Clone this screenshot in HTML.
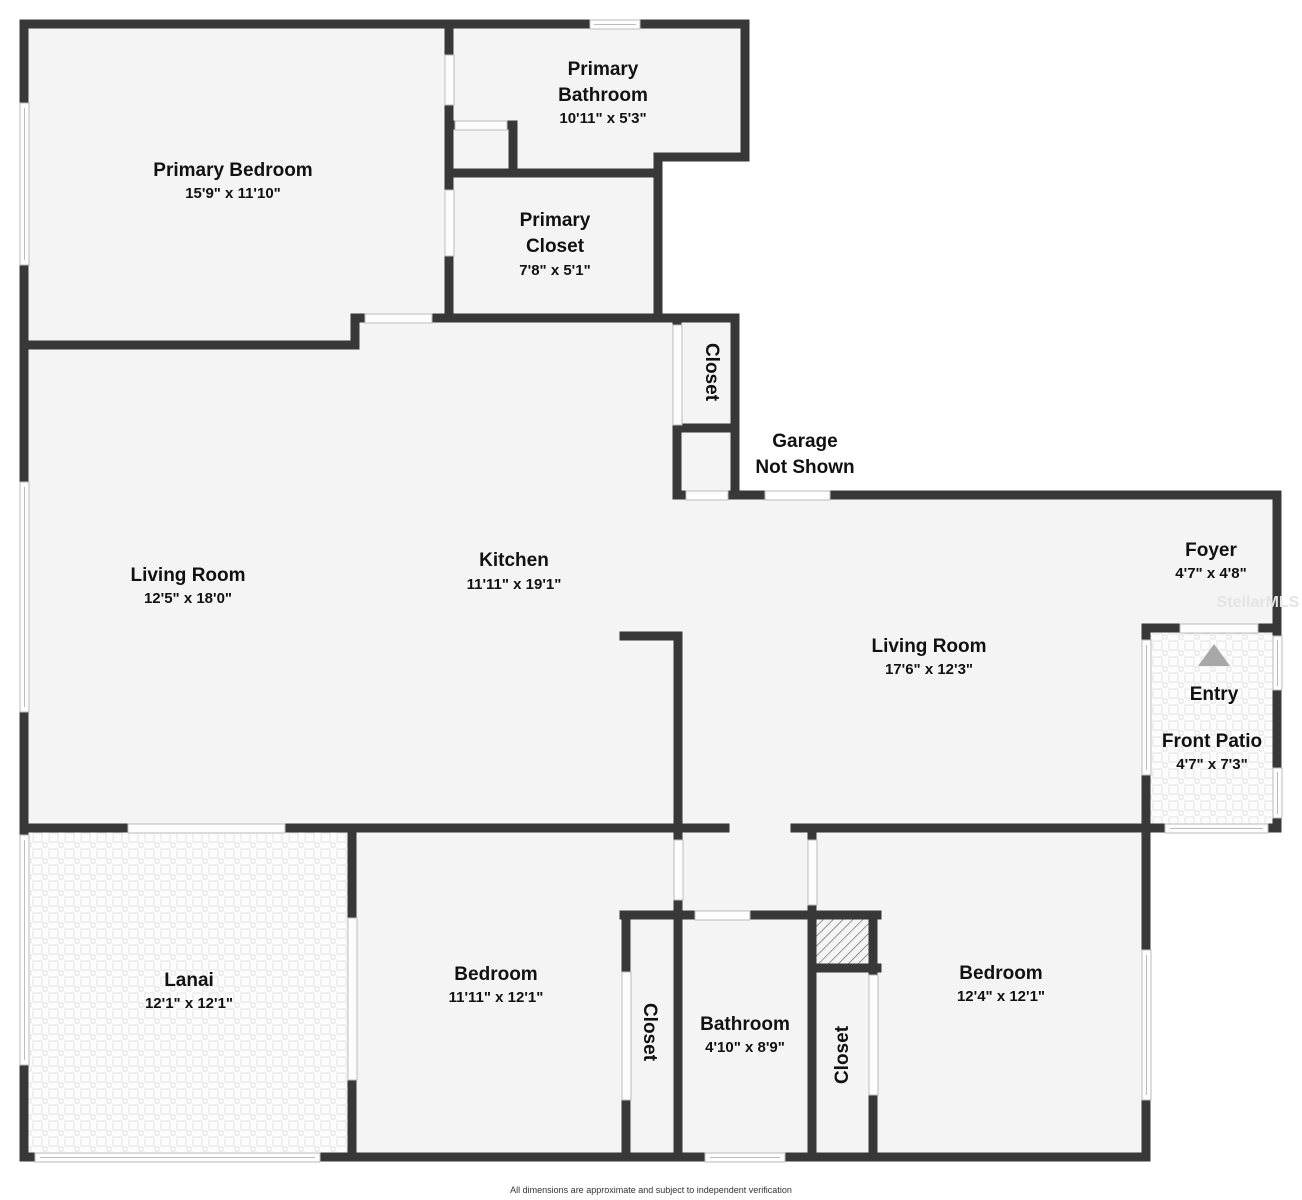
<!DOCTYPE html>
<html><head><meta charset="utf-8"><style>
html,body{margin:0;padding:0;background:#fff;}
svg{display:block;}
text{font-family:"Liberation Sans",sans-serif;fill:#111;text-anchor:middle;}
.n{font-size:19px;font-weight:bold;}
.d{font-size:15px;font-weight:bold;}
</style></head><body>
<svg width="1302" height="1200" viewBox="0 0 1302 1200" xmlns="http://www.w3.org/2000/svg">
<defs>
<pattern id="tile" width="16" height="16" patternUnits="userSpaceOnUse">
<rect width="16" height="16" fill="#fcfcfc"/>
<rect x="1" y="1" width="9" height="9" fill="none" stroke="#e4e4e4" stroke-width="1"/>
<rect x="11" y="11" width="4" height="4" fill="none" stroke="#e4e4e4" stroke-width="1"/>
</pattern>
<pattern id="hatch" width="7" height="7" patternUnits="userSpaceOnUse" patternTransform="rotate(45)">
<rect width="7" height="7" fill="#f4f4f4"/><line x1="0" y1="0" x2="0" y2="7" stroke="#555" stroke-width="1.2"/>
</pattern>
</defs>
<polygon points="24,24 745,24 745,157 658,157 658,318 735,318 735,495 1277,495 1277,828 1146,828 1146,1157 24,1157" fill="#f4f4f4"/>
<rect x="24" y="828" width="328" height="329" fill="url(#tile)"/>
<rect x="1146" y="628" width="131" height="200" fill="url(#tile)"/>
<rect x="812" y="915" width="65" height="53" fill="url(#hatch)"/>
<g stroke="#383838" stroke-width="9" stroke-linecap="square" fill="none">
<path d="M24,24H745V157H658V318M449,24V318M449,173H658M449,125H513V173M355,318H735M355,318V345H24M24,24V1157M677,318V495H735M677,428H735M735,318V495H1277V828H1146M1146,628H1277M1146,628V1157M624,636H678V828M24,828H725M795,828H1146M24,1157H1146M352,828V1157M678,828V1157M624,915H877M626,915V1157M812,828V1157M812,968H877M873,915V1157"/>
</g>
<g fill="#fdfdfd" stroke="#bbb" stroke-width="1">
<rect x="590" y="20" width="50" height="9"/><line x1="594" y1="24.5" x2="636" y2="24.5"/>
<rect x="20" y="103" width="9" height="162"/><line x1="24.5" y1="108" x2="24.5" y2="260"/>
<rect x="20" y="482" width="9" height="230"/><line x1="24.5" y1="487" x2="24.5" y2="707"/>
<rect x="20" y="835" width="9" height="230"/><line x1="24.5" y1="840" x2="24.5" y2="1060"/>
<rect x="35" y="1153" width="285" height="9"/><line x1="40" y1="1157.5" x2="315" y2="1157.5"/>
<rect x="705" y="1153" width="80" height="9"/><line x1="710" y1="1157.5" x2="780" y2="1157.5"/>
<rect x="1142" y="950" width="9" height="150"/><line x1="1146.5" y1="955" x2="1146.5" y2="1095"/>
<rect x="686" y="491" width="42" height="9"/>
<rect x="765" y="491" width="65" height="9"/>
<rect x="1142" y="640" width="9" height="135"/><line x1="1146.5" y1="645" x2="1146.5" y2="770"/>
<rect x="1273" y="636" width="9" height="54"/><line x1="1277.5" y1="640" x2="1277.5" y2="686"/>
<rect x="1273" y="768" width="9" height="50"/><line x1="1277.5" y1="772" x2="1277.5" y2="814"/>
<rect x="1165" y="824" width="103" height="9"/><line x1="1170" y1="828.5" x2="1263" y2="828.5"/>
<rect x="1180" y="624" width="78" height="9"/>
<rect x="445" y="55" width="9" height="50"/>
<rect x="445" y="190" width="9" height="66"/>
<rect x="455" y="121" width="52" height="9"/>
<rect x="365" y="314" width="67" height="9"/>
<rect x="673" y="325" width="9" height="100"/>
<rect x="128" y="824" width="157" height="9"/>
<rect x="348" y="918" width="9" height="162"/>
<rect x="674" y="840" width="9" height="60"/>
<rect x="808" y="840" width="9" height="65"/>
<rect x="695" y="911" width="55" height="9"/>
<rect x="622" y="972" width="9" height="128"/>
<rect x="869" y="975" width="9" height="120"/>
</g>
<polygon points="1214,644 1198,666 1230,666" fill="#a8a8a8"/>
<text x="603" y="75" class="n">Primary</text>
<text x="603" y="101" class="n">Bathroom</text>
<text x="603" y="123" class="d">10'11" x 5'3"</text>
<text x="233" y="176" class="n">Primary Bedroom</text>
<text x="233" y="198" class="d">15'9" x 11'10"</text>
<text x="555" y="226" class="n">Primary</text>
<text x="555" y="252" class="n">Closet</text>
<text x="555" y="275" class="d">7'8" x 5'1"</text>
<text x="706" y="372" class="n" transform="rotate(90 706 372)">Closet</text>
<text x="805" y="447" class="n">Garage</text>
<text x="805" y="473" class="n">Not Shown</text>
<text x="514" y="566" class="n">Kitchen</text>
<text x="514" y="589" class="d">11'11" x 19'1"</text>
<text x="188" y="581" class="n">Living Room</text>
<text x="188" y="603" class="d">12'5" x 18'0"</text>
<text x="1211" y="556" class="n">Foyer</text>
<text x="1211" y="578" class="d">4'7" x 4'8"</text>
<text x="1258" y="607" style="font-size:16px;font-weight:bold;fill:#e4e4e4">StellarMLS</text>
<text x="929" y="652" class="n">Living Room</text>
<text x="929" y="674" class="d">17'6" x 12'3"</text>
<text x="1214" y="700" class="n">Entry</text>
<text x="1212" y="747" class="n">Front Patio</text>
<text x="1212" y="769" class="d">4'7" x 7'3"</text>
<text x="189" y="986" class="n">Lanai</text>
<text x="189" y="1008" class="d">12'1" x 12'1"</text>
<text x="496" y="980" class="n">Bedroom</text>
<text x="496" y="1002" class="d">11'11" x 12'1"</text>
<text x="1001" y="979" class="n">Bedroom</text>
<text x="1001" y="1001" class="d">12'4" x 12'1"</text>
<text x="745" y="1030" class="n">Bathroom</text>
<text x="745" y="1052" class="d">4'10" x 8'9"</text>
<text x="644" y="1032" class="n" transform="rotate(90 644 1032)">Closet</text>
<text x="848" y="1055" class="n" transform="rotate(-90 848 1055)">Closet</text>
<text x="651" y="1193" style="font-size:9px;fill:#333">All dimensions are approximate and subject to independent verification</text>
</svg>
</body></html>
